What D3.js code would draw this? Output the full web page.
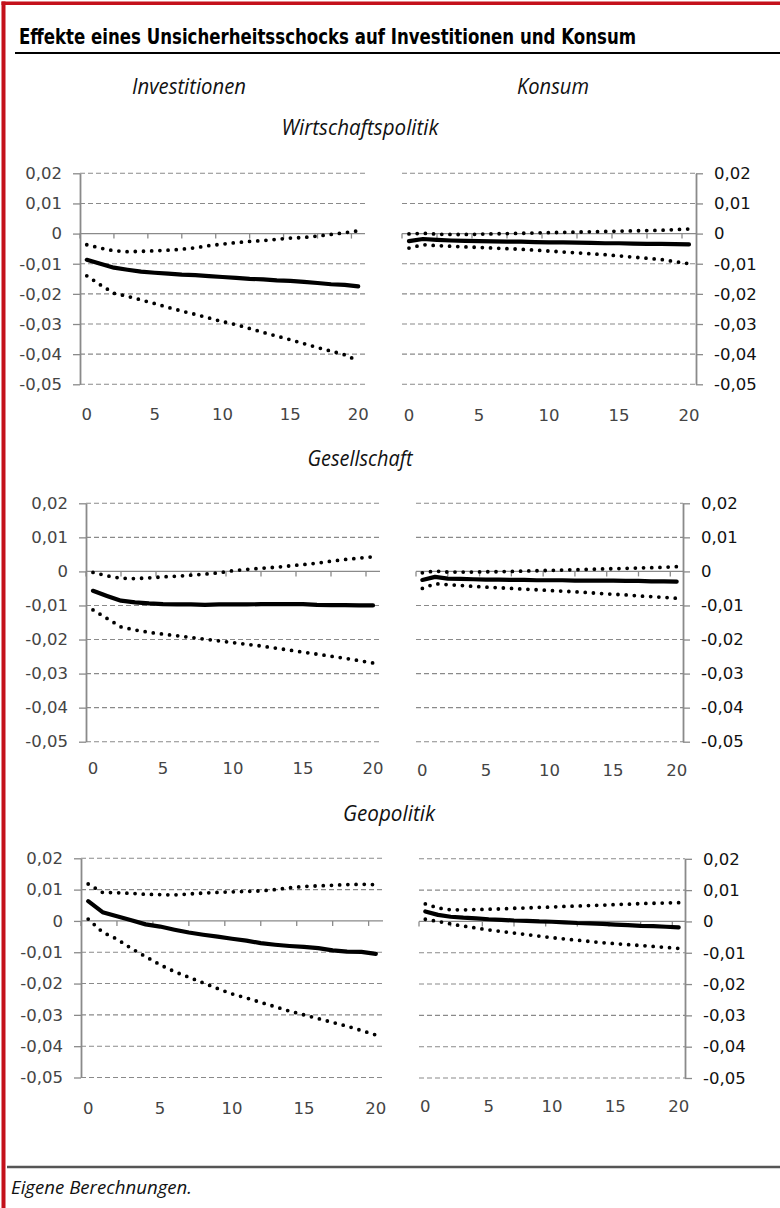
<!DOCTYPE html>
<html>
<head>
<meta charset="utf-8">
<script src="https://cdn.jsdelivr.net/npm/d3@7/dist/d3.min.js"></script>
<style>
    body { margin: 0; background: #fff; }
    svg { display: block; }
</style>
</head>
<body>
<div id="chart"></div>
<script>
var horizons = [0, 1, 2, 3, 4, 5, 6, 7, 8, 9, 10, 11, 12, 13, 14, 15, 16, 17, 18, 19, 20];
var xTickLabels = [0, 5, 10, 15, 20];
var yTickValues = [0.02, 0.01, 0, -0.01, -0.02, -0.03, -0.04, -0.05];

var titleText = "Effekte eines Unsicherheitsschocks auf Investitionen und Konsum";
var columnTitles = ["Investitionen", "Konsum"];
var rowTitles = ["Wirtschaftspolitik", "Gesellschaft", "Geopolitik"];
var sourceText = "Eigene Berechnungen.";

// Wirtschaftspolitik
var wpInvMid = [-0.0087, -0.0100, -0.0113, -0.0120, -0.0126, -0.0130, -0.0133, -0.0136, -0.0138, -0.0141, -0.0144, -0.0147, -0.0150, -0.0152, -0.0155, -0.0157, -0.0160, -0.0164, -0.0168, -0.0170, -0.0175];
var wpInvUp = [-0.0037, -0.0048, -0.0057, -0.0060, -0.0059, -0.0057, -0.0055, -0.0052, -0.0047, -0.0040, -0.0035, -0.0030, -0.0026, -0.0023, -0.0019, -0.0015, -0.0013, -0.0008, -0.0003, 0.0003, 0.0009];
var wpInvLo = [-0.0140, -0.0170, -0.0198, -0.0208, -0.0220, -0.0232, -0.0245, -0.0257, -0.0268, -0.0280, -0.0292, -0.0302, -0.0315, -0.0328, -0.0340, -0.0352, -0.0365, -0.0378, -0.0390, -0.0402, -0.0422];
var wpKonMid = [-0.0025, -0.0018, -0.0021, -0.0023, -0.0024, -0.0025, -0.0026, -0.0027, -0.0027, -0.0028, -0.0029, -0.0029, -0.0030, -0.0031, -0.0032, -0.0032, -0.0033, -0.0034, -0.0034, -0.0035, -0.0036];
var wpKonUp = [-0.0001, 0.0001, -0.0002, -0.0003, -0.0003, -0.0002, -0.0001, 0.0000, 0.0001, 0.0002, 0.0003, 0.0004, 0.0005, 0.0006, 0.0007, 0.0008, 0.0009, 0.0010, 0.0011, 0.0013, 0.0015];
var wpKonLo = [-0.0048, -0.0037, -0.0040, -0.0042, -0.0044, -0.0046, -0.0048, -0.0050, -0.0052, -0.0055, -0.0058, -0.0061, -0.0064, -0.0067, -0.0070, -0.0074, -0.0078, -0.0082, -0.0086, -0.0093, -0.0100];

// Gesellschaft
var geInvMid = [-0.0057, -0.0072, -0.0086, -0.0091, -0.0094, -0.0096, -0.0097, -0.0097, -0.0098, -0.0097, -0.0097, -0.0097, -0.0096, -0.0096, -0.0096, -0.0096, -0.0098, -0.0099, -0.0099, -0.0100, -0.0100];
var geInvUp = [-0.0003, -0.0013, -0.0020, -0.0021, -0.0019, -0.0016, -0.0014, -0.0011, -0.0008, -0.0004, 0.0002, 0.0006, 0.0009, 0.0012, 0.0016, 0.0020, 0.0024, 0.0030, 0.0035, 0.0039, 0.0043];
var geInvLo = [-0.0113, -0.0138, -0.0163, -0.0172, -0.0179, -0.0184, -0.0189, -0.0194, -0.0199, -0.0204, -0.0209, -0.0214, -0.0219, -0.0225, -0.0231, -0.0237, -0.0243, -0.0249, -0.0255, -0.0262, -0.0269];
var geKonMid = [-0.0025, -0.0016, -0.0021, -0.0022, -0.0023, -0.0024, -0.0024, -0.0025, -0.0025, -0.0026, -0.0026, -0.0026, -0.0027, -0.0027, -0.0027, -0.0027, -0.0028, -0.0028, -0.0029, -0.0029, -0.0030];
var geKonUp = [-0.0004, 0.0001, -0.0002, -0.0002, -0.0002, -0.0001, -0.0001, 0.0000, 0.0001, 0.0002, 0.0003, 0.0004, 0.0005, 0.0006, 0.0007, 0.0008, 0.0009, 0.0010, 0.0011, 0.0012, 0.0014];
var geKonLo = [-0.0050, -0.0036, -0.0039, -0.0041, -0.0044, -0.0046, -0.0048, -0.0050, -0.0052, -0.0054, -0.0056, -0.0058, -0.0060, -0.0062, -0.0065, -0.0067, -0.0069, -0.0072, -0.0074, -0.0076, -0.0079];

// Geopolitik
var gpInvMid = [0.0063, 0.0028, 0.0015, 0.0002, -0.0011, -0.0018, -0.0028, -0.0037, -0.0044, -0.0050, -0.0057, -0.0063, -0.0071, -0.0076, -0.0080, -0.0083, -0.0087, -0.0094, -0.0098, -0.0099, -0.0105];
var gpInvUp = [0.0118, 0.0091, 0.0090, 0.0088, 0.0085, 0.0084, 0.0083, 0.0086, 0.0089, 0.0091, 0.0093, 0.0094, 0.0096, 0.0100, 0.0106, 0.0110, 0.0112, 0.0114, 0.0116, 0.0117, 0.0116];
var gpInvLo = [0.0006, -0.0036, -0.0058, -0.0088, -0.0114, -0.0140, -0.0162, -0.0180, -0.0198, -0.0216, -0.0233, -0.0246, -0.0260, -0.0274, -0.0288, -0.0300, -0.0312, -0.0324, -0.0336, -0.0350, -0.0364];
var gpKonMid = [0.0032, 0.0021, 0.0015, 0.0012, 0.0010, 0.0007, 0.0005, 0.0003, 0.0002, 0.0000, -0.0001, -0.0003, -0.0005, -0.0006, -0.0008, -0.0010, -0.0012, -0.0014, -0.0015, -0.0017, -0.0019];
var gpKonUp = [0.0056, 0.0043, 0.0037, 0.0037, 0.0038, 0.0039, 0.0040, 0.0042, 0.0043, 0.0045, 0.0046, 0.0048, 0.0049, 0.0051, 0.0052, 0.0054, 0.0055, 0.0057, 0.0058, 0.0059, 0.0060];
var gpKonLo = [0.0007, 0.0000, -0.0008, -0.0015, -0.0021, -0.0027, -0.0032, -0.0037, -0.0042, -0.0047, -0.0052, -0.0056, -0.0060, -0.0064, -0.0068, -0.0071, -0.0074, -0.0077, -0.0080, -0.0083, -0.0086];

var width = 780,
    height = 1208;

var labelFont = "'DejaVu Sans', sans-serif",
    headFont = "'Open Sans', 'Noto Sans', sans-serif",
    gridColor = "#8a8a8a";

// panel frames (pixel boxes), one per row and column
var panels = [
    { side: "left",  x0: 80,  x1: 365, yTop: 173.3, yBot: 384.3, labelY: 420, series: [wpInvMid, wpInvUp, wpInvLo] },
    { side: "right", x0: 402, x1: 696, yTop: 173.3, yBot: 384.3, labelY: 421, series: [wpKonMid, wpKonUp, wpKonLo] },
    { side: "left",  x0: 86,  x1: 380, yTop: 503.3, yBot: 741.7, labelY: 774, series: [geInvMid, geInvUp, geInvLo] },
    { side: "right", x0: 416, x1: 683, yTop: 503.3, yBot: 741.7, labelY: 776, series: [geKonMid, geKonUp, geKonLo] },
    { side: "left",  x0: 81,  x1: 383, yTop: 858.3, yBot: 1077.5, labelY: 1114, series: [gpInvMid, gpInvUp, gpInvLo] },
    { side: "right", x0: 419, x1: 685, yTop: 858.8, yBot: 1078, labelY: 1112, series: [gpKonMid, gpKonUp, gpKonLo] }
];

var svg = d3.select("#chart")
    .append("svg")
    .attr("width", width)
    .attr("height", height);

// red frame
svg.append("rect")
    .attr("x", 1.5).attr("y", 1.5)
    .attr("width", 4).attr("height", height)
    .attr("fill", "#c4111b");
svg.append("rect")
    .attr("x", 1.5).attr("y", 1.5)
    .attr("width", width).attr("height", 3.5)
    .attr("fill", "#c4111b");

svg.append("text")
    .attr("x", 19)
    .attr("y", 44)
    .attr("textLength", 617)
    .attr("lengthAdjust", "spacingAndGlyphs")
    .style("font-family", "'Liberation Sans Narrow', 'DejaVu Sans Condensed', sans-serif")
    .style("font-weight", "bold")
    .style("font-size", "21.5px")
    .text(titleText);

svg.append("line")
    .attr("x1", 15).attr("x2", width)
    .attr("y1", 53).attr("y2", 53)
    .attr("stroke", "#000")
    .attr("stroke-width", 2);

var heads = [
    { text: columnTitles[0], x: 189, y: 94, w: 114 },
    { text: columnTitles[1], x: 553, y: 94, w: 72 },
    { text: rowTitles[0], x: 360, y: 135, w: 157 },
    { text: rowTitles[1], x: 360, y: 466, w: 105 },
    { text: rowTitles[2], x: 389, y: 821, w: 92 }
];

svg.selectAll(".head")
    .data(heads)
    .enter().append("text")
    .attr("class", "head")
    .attr("x", function(d) { return d.x; })
    .attr("y", function(d) { return d.y; })
    .attr("text-anchor", "middle")
    .attr("textLength", function(d) { return d.w; })
    .attr("lengthAdjust", "spacingAndGlyphs")
    .style("font-family", headFont)
    .style("font-style", "italic")
    .style("font-size", "21px")
    .style("fill", "#111")
    .text(function(d) { return d.text; });

function fmt(v) {
    if (Math.abs(v) < 1e-9) return "0";
    return v.toFixed(2).replace(".", ",");
}

function drawPanel(p) {
    var x = d3.scaleLinear().domain([-0.5, 20.5]).range([p.x0, p.x1]);
    var y = d3.scaleLinear().domain([0.02, -0.05]).range([p.yTop, p.yBot]);
    var g = svg.append("g");

    // dashed grid
    g.selectAll(".grid")
        .data(yTickValues.filter(function(v) { return v !== 0; }))
        .enter().append("line")
        .attr("x1", p.x0).attr("x2", p.x1)
        .attr("y1", function(d) { return y(d); })
        .attr("y2", function(d) { return y(d); })
        .attr("stroke", gridColor)
        .attr("stroke-width", 1.1)
        .attr("stroke-dasharray", "5,3");

    // zero line with its tick marks
    g.append("line")
        .attr("x1", p.x0).attr("x2", p.x1)
        .attr("y1", y(0)).attr("y2", y(0))
        .attr("stroke", gridColor)
        .attr("stroke-width", 1.3);

    g.selectAll(".xtick")
        .data(d3.range(-0.5, 20.5, 2.5))
        .enter().append("line")
        .attr("x1", function(d) { return x(d); })
        .attr("x2", function(d) { return x(d); })
        .attr("y1", y(0))
        .attr("y2", y(0) + 5)
        .attr("stroke", gridColor)
        .attr("stroke-width", 1.3);

    var axis = (p.side === "left" ? d3.axisLeft(y) : d3.axisRight(y))
        .tickValues(yTickValues)
        .tickSize(7)
        .tickSizeOuter(0)
        .tickPadding(11)
        .tickFormat(fmt);

    var ax = g.append("g")
        .attr("transform", "translate(" + (p.side === "left" ? p.x0 : p.x1) + ",0)")
        .call(axis);
    ax.select(".domain").attr("stroke", gridColor).attr("stroke-width", 1.8);
    ax.selectAll(".tick line").attr("stroke", gridColor).attr("stroke-width", 1.3);
    ax.selectAll(".tick text")
        .style("font-family", labelFont)
        .style("font-size", "16.5px")
        .style("fill", p.side === "left" ? "#444" : "#111");

    g.selectAll(".xlab")
        .data(xTickLabels)
        .enter().append("text")
        .attr("x", function(d) { return x(d); })
        .attr("y", p.labelY)
        .attr("text-anchor", "middle")
        .style("font-family", labelFont)
        .style("font-size", "16.5px")
        .style("fill", "#444")
        .text(function(d) { return d; });

    var line = d3.line()
        .x(function(d, i) { return x(horizons[i]); })
        .y(function(d) { return y(d); });

    // bands first, then the point estimate
    [p.series[1], p.series[2]].forEach(function(s) {
        g.append("path")
            .datum(s)
            .attr("d", line)
            .attr("fill", "none")
            .attr("stroke", "#000")
            .attr("stroke-width", 3.8)
            .attr("stroke-linecap", "round")
            .attr("stroke-dasharray", "0,8.2");
    });

    g.append("path")
        .datum(p.series[0])
        .attr("d", line)
        .attr("fill", "none")
        .attr("stroke", "#000")
        .attr("stroke-width", 4.2)
        .attr("stroke-linejoin", "round")
        .attr("stroke-linecap", "round");
}

panels.forEach(drawPanel);

// source line
svg.append("line")
    .attr("x1", 7).attr("x2", width)
    .attr("y1", 1167).attr("y2", 1167)
    .attr("stroke", "#555")
    .attr("stroke-width", 2.5);

svg.append("text")
    .attr("x", 11)
    .attr("y", 1194)
    .attr("textLength", 181)
    .attr("lengthAdjust", "spacingAndGlyphs")
    .style("font-family", headFont)
    .style("font-style", "italic")
    .style("font-size", "17.5px")
    .style("fill", "#111")
    .text(sourceText);
</script>
</body>
</html>
